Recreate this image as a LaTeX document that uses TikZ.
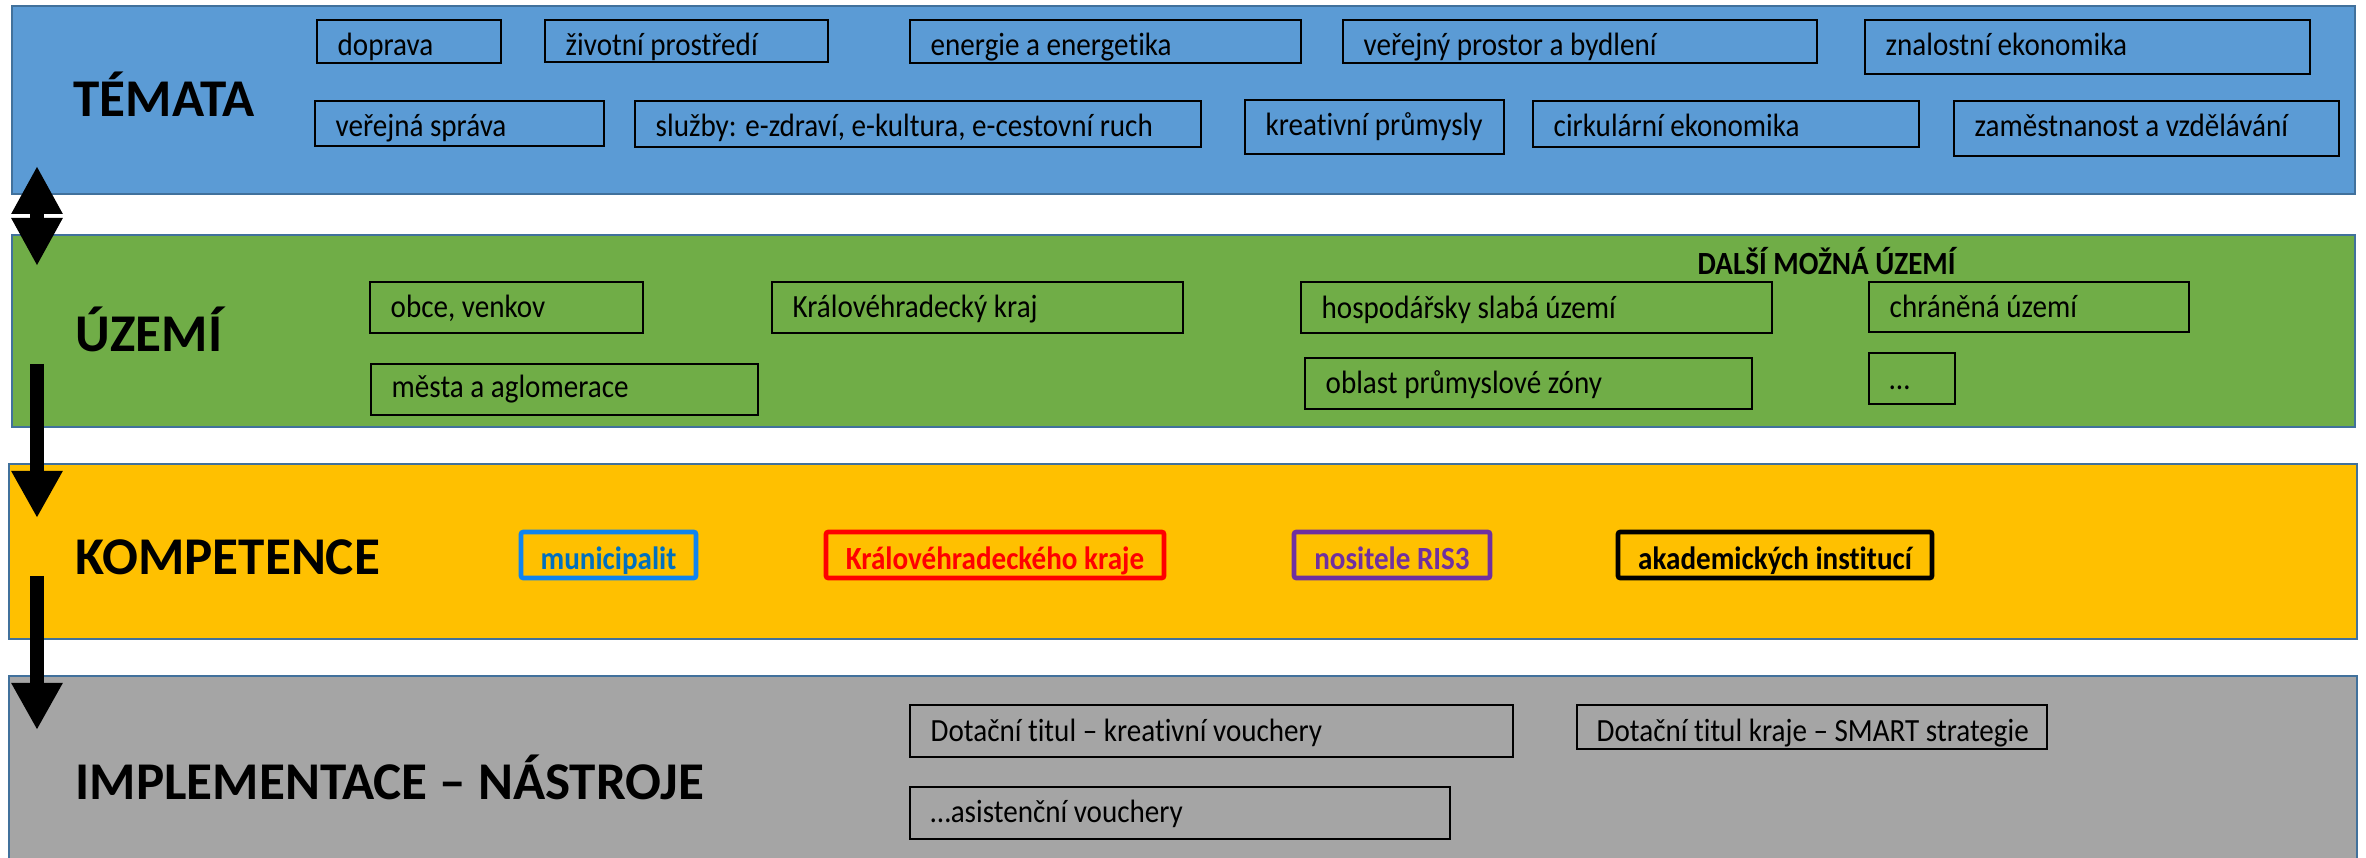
\documentclass[tikz,border=0pt]{standalone}
\usepackage{fontspec}
\setmainfont{Carlito}[FakeStretch=0.9, Ligatures=NoCommon]
\newfontfamily\headfont{Carlito}[Ligatures=NoCommon]
\usetikzlibrary{arrows.meta}

\definecolor{temataBlue}{HTML}{5B9BD5}
\definecolor{uzemiGreen}{HTML}{70AD47}
\definecolor{kompGold}{HTML}{FFC000}
\definecolor{implGray}{HTML}{A5A5A5}
\definecolor{bandLine}{HTML}{41719C}
\definecolor{muniLine}{HTML}{1084F0}
\definecolor{muniText}{HTML}{0070C0}
\definecolor{risPurple}{HTML}{7030A0}

\tikzset{
	band/.style={draw=bandLine, line width=0.6pt},
	tema/.style={draw=black, line width=0.8pt},
	komp/.style={line width=1.3pt, rounded corners=0.6pt},
	txt/.style={anchor=base west, inner sep=0, font=\fontsize{9.2}{11}\selectfont},
	komptxt/.style={anchor=base, inner sep=0, font=\fontsize{9.2}{11}\selectfont\bfseries},
	head/.style={anchor=base west, inner sep=0, font=\headfont\fontsize{15.1}{17}\selectfont\bfseries},
	bigarrow/.style={line width=0.15cm, -{Triangle[width=0.48cm,length=0.47cm]}},
	botharrow/.style={line width=0.15cm, {Triangle[width=0.48cm,length=0.48cm]}-{Triangle[width=0.48cm,length=0.48cm]}}
}

\begin{document}
\begin{tikzpicture}[x=1cm, y=-1cm]
	\useasboundingbox (0,0) rectangle (23.66,8.58);
	% Bands and headings:
	\draw[band, fill=temataBlue] (0.12,0.06) rectangle (23.55,1.94);
	\draw[band, fill=uzemiGreen] (0.12,2.35) rectangle (23.55,4.27);
	\draw[band, fill=kompGold] (0.09,4.64) rectangle (23.57,6.39);
	\draw[band, fill=implGray] (0.09,6.76) rectangle (23.57,8.80);
	\node[head] (temata) at (0.73,1.17) {TÉMATA};
	\node[head] (uzemi) at (0.75,3.52) {ÚZEMÍ};
	\node[head] (kompetence) at (0.75,5.75) {KOMPETENCE};
	\node[head] (implementace) at (0.75,8.00) {IMPLEMENTACE – NÁSTROJE};

	% Témata:
	\draw[tema] (3.17,0.20) rectangle (5.01,0.63);
	\node[txt] (doprava) at (3.37,0.56) {doprava};
	\draw[tema] (5.45,0.20) rectangle (8.28,0.62);
	\node[txt] (prostredi) at (5.65,0.56) {životní prostředí};
	\draw[tema] (9.10,0.20) rectangle (13.01,0.63);
	\node[txt] (energie) at (9.30,0.56) {energie a energetika};
	\draw[tema] (13.43,0.20) rectangle (18.17,0.63);
	\node[txt] (prostor) at (13.63,0.56) {veřejný prostor a bydlení};
	\draw[tema] (18.65,0.20) rectangle (23.10,0.74);
	\node[txt] (znalostni) at (18.85,0.56) {znalostní ekonomika};
	\draw[tema] (3.15,1.01) rectangle (6.04,1.46);
	\node[txt] (sprava) at (3.35,1.37) {veřejná správa};
	\draw[tema] (6.35,1.01) rectangle (12.01,1.47);
	\node[txt] (sluzby) at (6.55,1.37) {služby: e-zdraví, e-kultura, e-cestovní ruch};
	\draw[tema] (12.45,1.00) rectangle (15.04,1.54);
	\node[txt] (kreativni) at (12.65,1.36) {kreativní průmysly};
	\draw[tema] (15.33,1.01) rectangle (19.19,1.47);
	\node[txt] (cirkularni) at (15.53,1.37) {cirkulární ekonomika};
	\draw[tema] (19.54,1.01) rectangle (23.39,1.56);
	\node[txt] (zamestnanost) at (19.74,1.37) {zaměstnanost a vzdělávání};

	% Území:
	\node[txt, font=\fontsize{9.2}{11}\selectfont\bfseries] (dalsi) at (16.97,2.75) {DALŠÍ MOŽNÁ ÚZEMÍ};
	\draw[tema] (3.70,2.82) rectangle (6.43,3.33);
	\node[txt] (obce) at (3.90,3.18) {obce, venkov};
	\draw[tema] (7.72,2.82) rectangle (11.83,3.33);
	\node[txt] (kraj) at (7.92,3.18) {Královéhradecký kraj};
	\draw[tema] (13.01,2.82) rectangle (17.72,3.33);
	\node[txt] (slaba) at (13.21,3.19) {hospodářsky slabá území};
	\draw[tema] (18.69,2.82) rectangle (21.89,3.32);
	\node[txt] (chranena) at (18.89,3.18) {chráněná území};
	\draw[tema] (3.71,3.64) rectangle (7.58,4.15);
	\node[txt] (mesta) at (3.91,3.98) {města a aglomerace};
	\draw[tema] (13.05,3.58) rectangle (17.52,4.09);
	\node[txt] (zony) at (13.25,3.94) {oblast průmyslové zóny};
	\draw[tema] (18.69,3.53) rectangle (19.55,4.04);
	\node[txt] (dalsi-uz) at (18.89,3.90) {…};

	% Kompetence:
	\draw[komp, draw=muniLine] (5.21,5.32) rectangle (6.96,5.78);
	\node[komptxt, text=muniText] (municipalit) at (6.085,5.70) {municipalit};
	\draw[komp, draw=red] (8.26,5.32) rectangle (11.64,5.78);
	\node[komptxt, text=red] (kraje) at (9.95,5.70) {Královéhradeckého kraje};
	\draw[komp, draw=risPurple] (12.94,5.32) rectangle (14.90,5.78);
	\node[komptxt, text=risPurple] (ris) at (13.92,5.70) {nositele RIS3};
	\draw[komp, draw=black] (16.18,5.32) rectangle (19.32,5.78);
	\node[komptxt] (akademicke) at (17.75,5.70) {akademických institucí};

	% Implementace:
	\draw[tema] (9.10,7.05) rectangle (15.13,7.57);
	\node[txt] (kreativni-v) at (9.30,7.42) {Dotační titul – kreativní vouchery};
	\draw[tema] (15.77,7.05) rectangle (20.47,7.49);
	\node[txt] (smart) at (15.96,7.42) {Dotační titul kraje – SMART strategie};
	\draw[tema] (9.10,7.87) rectangle (14.50,8.39);
	\node[txt] (asistencni) at (9.30,8.23) {…asistenční vouchery};

	% Arrows:
	\coordinate (temata-a) at (0.37,1.66);
	\coordinate (uzemi-a) at (0.37,2.66);
	\coordinate (uzemi-b) at (0.37,3.64);
	\coordinate (komp-a) at (0.37,5.18);
	\coordinate (komp-b) at (0.37,5.76);
	\coordinate (impl-a) at (0.37,7.30);
	\draw[botharrow] (temata-a) -- (uzemi-a);
	\draw[bigarrow] (uzemi-b) -- (komp-a);
	\draw[bigarrow] (komp-b) -- (impl-a);
\end{tikzpicture}
\end{document}
